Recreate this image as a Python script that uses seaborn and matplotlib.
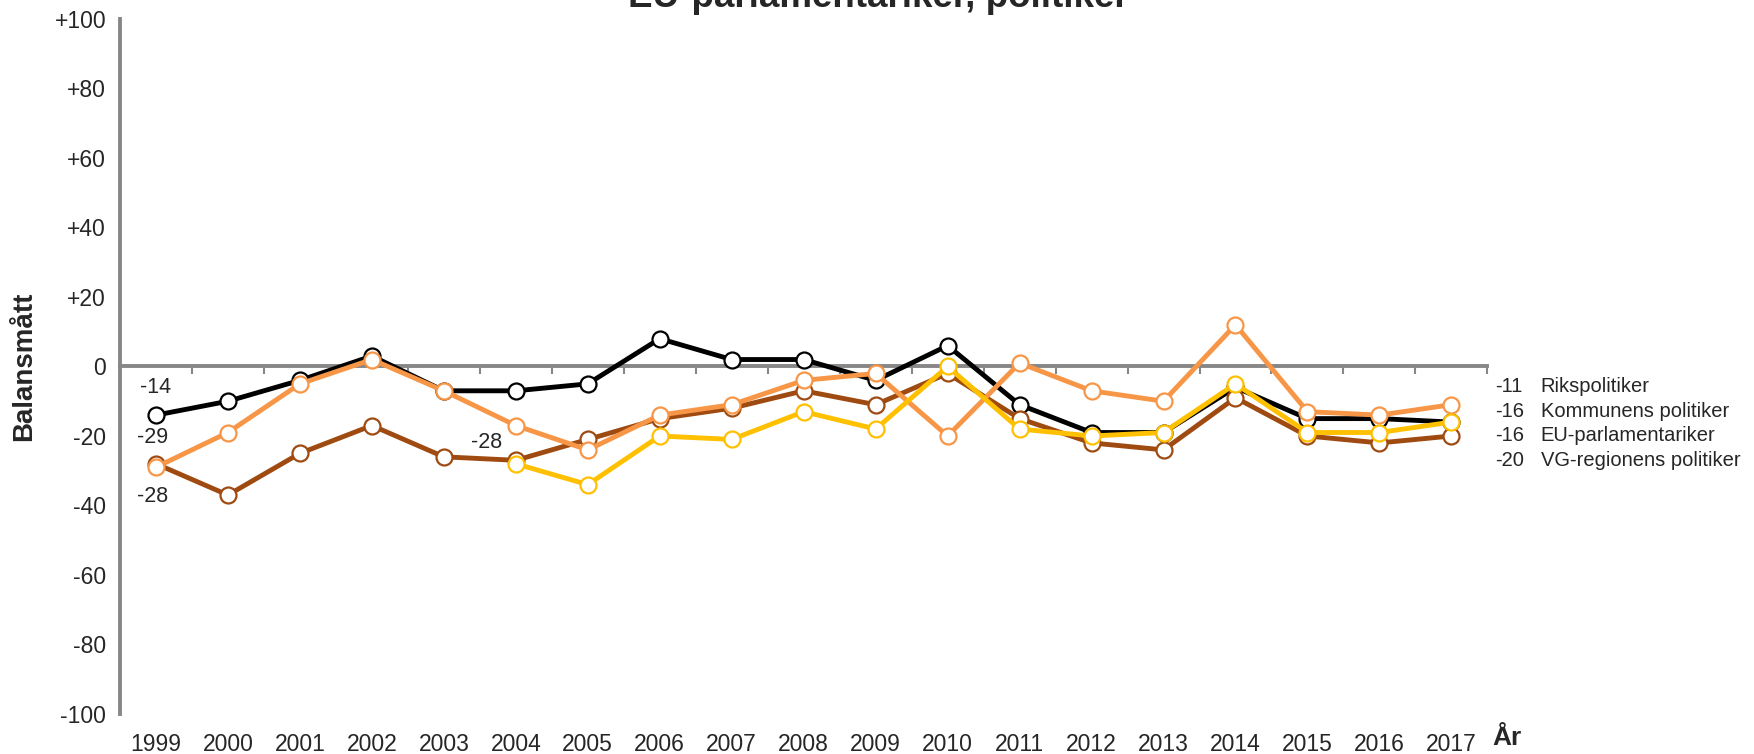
import numpy as np
import pandas as pd
import matplotlib
matplotlib.use("Agg")
import matplotlib.pyplot as plt
import seaborn as sns

# ---------------- data ----------------
years = [str(y) for y in range(1999, 2018)]
riks = [-14, -10, -4, 3, -7, -7, -5, 8, 2, 2, -4, 6, -11, -19, -19, -6, -15, -15, -16]
vg_region = [-28, -37, -25, -17, -26, -27, -21, -15, -12, -7, -11, -2, -15, -22, -24, -9, -20, -22, -20]
kommun = [-29, -19, -5, 2, -7, -17, -24, -14, -11, -4, -2, -20, 1, -7, -10, 12, -13, -14, -11]
eu = [np.nan] * 5 + [-28, -34, -20, -21, -13, -18, 0, -18, -20, -19, -5, -19, -19, -16]

end_values = ["-11", "-16", "-16", "-20"]
end_names = ["Rikspolitiker", "Kommunens politiker", "EU-parlamentariker", "VG-regionens politiker"]
start_labels = ["-14", "-29", "-28"]
eu_start_label = "-28"

title = "EU-parlamentariker, politiker"
ylabel = "Balansmått"
xlabel = "År"
yticks = list(range(-100, 101, 20))
ytick_labels = [("+%d" % v) if v > 0 else str(v) for v in yticks]

colors = {"riks": "#000000", "vg": "#9E4A10", "kommun": "#F79646", "eu": "#FFC000"}
GRAY = "#878787"

# ---------------- plot ----------------
sns.set_style("white")
plt.rcParams["font.family"] = ["Liberation Sans", "DejaVu Sans"]

fig = plt.figure(figsize=(17.54, 7.54), dpi=100)
ax = fig.add_axes([0.0684, 0.0531, 0.7796, 0.9217])

xpos = np.arange(len(years))
series = [("riks", riks), ("vg", vg_region), ("kommun", kommun), ("eu", eu)]
for z, (key, vals) in enumerate(series):
    c = colors[key]
    sns.lineplot(x=xpos, y=np.array(vals, dtype=float), ax=ax, color=c, linewidth=3.5,
                 marker="o", markersize=11.5, markerfacecolor="white",
                 markeredgecolor=c, markeredgewidth=1.6, zorder=3 + z)

ax.set_xlim(-0.5, len(years) - 0.5)
ax.set_ylim(-100, 100)
for s in ["top", "right", "bottom"]:
    ax.spines[s].set_visible(False)
ax.spines["left"].set_color(GRAY)
ax.spines["left"].set_linewidth(2.8)

ax.set_yticks(yticks)
ax.set_yticklabels(ytick_labels, fontsize=16.5)
ax.tick_params(axis="y", direction="out", length=4, width=1.5, color=GRAY, pad=6)
ax.set_xticks(xpos)
ax.set_xticklabels(years, fontsize=16.5)
ax.tick_params(axis="x", length=0, pad=14)
ax.set_xlabel("")
ax.set_ylabel("")

# zero line with category boundary ticks
secax = ax.secondary_xaxis(0.5)
secax.set_xticks(np.arange(-0.5, len(years), 1))
secax.tick_params(axis="x", direction="in", length=6, width=1.5, color=GRAY,
                  labeltop=False, labelbottom=False)
for s in secax.spines.values():
    s.set_color(GRAY)
    s.set_linewidth(2.8)

# start labels
fs = 15.5
ax.text(0, -6, start_labels[0], ha="center", va="center", fontsize=fs)
ax.text(-0.05, -20.5, start_labels[1], ha="center", va="center", fontsize=fs)
ax.text(-0.05, -37.5, start_labels[2], ha="center", va="center", fontsize=fs)
ax.text(4.6, -22, eu_start_label, ha="center", va="center", fontsize=fs)

# end labels
fe = 14.5
xv = len(years) - 0.5 + 0.11
for i, (v, n) in enumerate(zip(end_values, end_names)):
    yy = -5.8 - 7.1 * i
    ax.text(xv, yy, v, ha="left", va="center", fontsize=fe, clip_on=False)
    ax.text(xv + 0.63, yy, n, ha="left", va="center", fontsize=fe, clip_on=False)

fig.text(24 / 1754, 0.0531 + 0.9217 / 2, ylabel, rotation=90, ha="center", va="center",
         fontsize=20, fontweight="bold")
fig.text(1507 / 1754, 1 - 738 / 754, xlabel, ha="center", va="center", fontsize=19, fontweight="bold")
fig.text(0.5006, 1 - 7 / 754, title, ha="center", va="baseline", fontsize=26.5, fontweight="bold")

fig.savefig("out.png", dpi=100)
